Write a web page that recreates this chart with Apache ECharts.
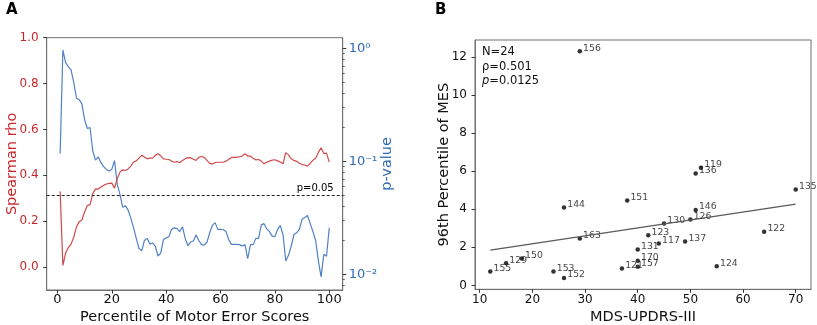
<!DOCTYPE html>
<html>
<head>
<meta charset="utf-8">
<script src="https://cdn.jsdelivr.net/npm/echarts@6/dist/echarts.min.js"></script>
<style>
  html, body { margin: 0; padding: 0; background: #fff; }
  #chart { width: 817px; height: 325px; }
</style>
</head>
<body>
<div id="chart"></div>
<script>
// ---- panel A: rho / p-value per percentile ----
const percentiles = [
  1, 2, 3, 4, 5, 6, 7, 8, 9, 10, 11, 12, 13, 14, 15, 16, 17, 18, 19, 20,
  21, 22, 23, 24, 25, 26, 27, 28, 29, 30, 31, 32, 33, 34, 35, 36, 37, 38, 39, 40,
  41, 42, 43, 44, 45, 46, 47, 48, 49, 50, 51, 52, 53, 54, 55, 56, 57, 58, 59, 60,
  61, 62, 63, 64, 65, 66, 67, 68, 69, 70, 71, 72, 73, 74, 75, 76, 77, 78, 79, 80,
  81, 82, 83, 84, 85, 86, 87, 88, 89, 90, 91, 92, 93, 94, 95, 96, 97, 98, 99, 100
];
const rho = [
  0.33, 0.007, 0.06, 0.085, 0.10, 0.13, 0.175, 0.198, 0.205, 0.24,
  0.268, 0.272, 0.32, 0.341, 0.340, 0.349, 0.356, 0.362, 0.365, 0.366,
  0.344, 0.385, 0.414, 0.424, 0.421, 0.428, 0.44, 0.458, 0.463, 0.475,
  0.487, 0.48, 0.472, 0.475, 0.475, 0.487, 0.494, 0.485, 0.472, 0.47,
  0.469, 0.462, 0.457, 0.46, 0.455, 0.465, 0.472, 0.477, 0.476, 0.47,
  0.465, 0.478, 0.482, 0.478, 0.465, 0.452, 0.449, 0.456, 0.457, 0.457,
  0.457, 0.462, 0.469, 0.478, 0.478, 0.478, 0.481, 0.484, 0.494, 0.484,
  0.484, 0.474, 0.467, 0.469, 0.462, 0.45, 0.457, 0.462, 0.466, 0.468,
  0.463, 0.458, 0.45, 0.499, 0.489, 0.472, 0.465, 0.461, 0.453, 0.447,
  0.445, 0.44, 0.452, 0.466, 0.474, 0.50, 0.52, 0.495, 0.497, 0.458
];
const pValue = [
  0.118, 0.970, 0.750, 0.692, 0.646, 0.501, 0.363, 0.353, 0.324, 0.234,
  0.196, 0.200, 0.124, 0.103, 0.110, 0.0977, 0.0902, 0.0851, 0.0824, 0.0851,
  0.102, 0.0631, 0.0513, 0.0394, 0.0407, 0.0372, 0.0316, 0.0260, 0.0209, 0.0170,
  0.0162, 0.0200, 0.0209, 0.0186, 0.0191, 0.0178, 0.0146, 0.0155, 0.0204, 0.0211,
  0.0216, 0.0251, 0.0259, 0.0255, 0.0240, 0.0265, 0.0209, 0.0180, 0.0194, 0.0198,
  0.0224, 0.0200, 0.0184, 0.0182, 0.0193, 0.0234, 0.0272, 0.0288, 0.0251, 0.0251,
  0.0249, 0.0240, 0.0204, 0.0185, 0.0185, 0.0185, 0.0184, 0.0179, 0.0184, 0.0138,
  0.0184, 0.0184, 0.0209, 0.0209, 0.0275, 0.0282, 0.0254, 0.0240, 0.0219, 0.0216,
  0.0251, 0.0272, 0.0224, 0.0132, 0.0148, 0.0178, 0.0226, 0.0234, 0.0251, 0.0309,
  0.0320, 0.0333, 0.0282, 0.0240, 0.0200, 0.0132, 0.00955, 0.0151, 0.0145, 0.0259
];
const pThreshold = 0.05;
const xTicksA = [0, 20, 40, 60, 80, 100];
const rhoTicks = [0, 0.2, 0.4, 0.6, 0.8, 1.0];
const pMinorTicks = [0.008, 0.009, 0.02, 0.03, 0.04, 0.05, 0.06, 0.07, 0.08, 0.09,
  0.2, 0.3, 0.4, 0.5, 0.6, 0.7, 0.8, 0.9];

// ---- panel B: MDS-UPDRS-III vs 96th percentile of MES ----
const subjects = ['156', '144', '163', '155', '129', '150', '153', '152', '151', '130', '123', '117',
  '131', '170', '157', '121', '137', '126', '119', '136', '146', '135', '122', '124'];
const updrs = [29, 26, 29, 12, 15, 18, 24, 26, 38, 45, 42, 44,
  40, 40, 40, 37, 49, 50, 52, 51, 51, 70, 64, 55];
const mes96 = [12.31, 4.09, 2.47, 0.73, 1.17, 1.42, 0.73, 0.39, 4.46, 3.25, 2.64, 2.2,
  1.89, 1.30, 0.98, 0.89, 2.31, 3.46, 6.19, 5.88, 3.97, 5.04, 2.82, 1.0];
const fitX = [12, 70];
const fitY = [1.86, 4.27];
const xTicksB = [10, 20, 30, 40, 50, 60, 70];
const yTicksB = [0, 2, 4, 6, 8, 10, 12];

const RED = '#c8282c';
const RED_LINE = '#d24a4c';
const BLUE = '#2f6bb3';
const BLUE_LINE = '#4f82c4';
const FONT = 'DejaVu Sans';
const FRAME = '#707070';

const pMin = 0.0073, pMax = 1.246;

const sup = { '0': '⁰', '1': '¹', '2': '²', '-': '⁻' };
function powLabel(v) {
  const e = Math.round(Math.log10(v));
  if (Math.abs(Math.log10(v) - e) > 1e-6) return '';
  return '10' + String(e).split('').map(c => sup[c]).join('');
}

const chart = echarts.init(document.getElementById('chart'), null, { renderer: 'canvas' });

const option = {
  animation: false,
  textStyle: { fontFamily: FONT },
  grid: [
    { left: 46.7, top: 37.7, width: 296, height: 252.3, show: true, borderColor: FRAME, borderWidth: 1,
      containLabel: false, outerBoundsMode: 'none' },
    { left: 475, top: 40, width: 336, height: 249.3, show: true, borderColor: FRAME, borderWidth: 1,
      containLabel: false, outerBoundsMode: 'none' }
  ],
  xAxis: [
    {
      gridIndex: 0, type: 'value', min: -3.95, max: 104.95,
      name: 'Percentile of Motor Error Scores', nameLocation: 'middle', nameGap: 20, nameMoveOverlap: false,
      nameTextStyle: { fontSize: 14.5, color: '#111', fontFamily: FONT },
      axisLine: { onZero: false, lineStyle: { color: FRAME } },
      axisTick: { customValues: xTicksA, length: 3.5, lineStyle: { color: '#333' } },
      axisLabel: { customValues: xTicksA, fontSize: 13, color: '#111', margin: 3 },
      splitLine: { show: false }
    },
    {
      gridIndex: 1, type: 'value', min: 9.1, max: 72.9,
      name: 'MDS-UPDRS-III', nameLocation: 'middle', nameGap: 20, nameMoveOverlap: false,
      nameTextStyle: { fontSize: 14.5, color: '#111', fontFamily: FONT },
      axisLine: { onZero: false, lineStyle: { color: FRAME } },
      axisTick: { customValues: xTicksB, length: 3.5, lineStyle: { color: '#333' } },
      axisLabel: { customValues: xTicksB, fontSize: 12, color: '#111', margin: 5 },
      splitLine: { show: false }
    }
  ],
  yAxis: [
    {
      gridIndex: 0, type: 'value', min: -0.1, max: 1.0, position: 'left',
      name: 'Spearman rho', nameLocation: 'middle', nameGap: 27, nameMoveOverlap: false,
      nameTextStyle: { fontSize: 14.5, color: RED, fontFamily: FONT },
      axisLine: { show: true, onZero: false, lineStyle: { color: FRAME } },
      axisTick: { show: true, customValues: rhoTicks, length: 3.5, lineStyle: { color: '#333' } },
      axisLabel: { customValues: rhoTicks, fontSize: 12, color: RED, margin: 8,
        formatter: v => v.toFixed(1) },
      splitLine: { show: false }
    },
    {
      gridIndex: 0, type: 'log', logBase: 10, min: pMin, max: pMax, position: 'right',
      name: 'p-value', nameLocation: 'middle', nameGap: 37, nameRotate: 90, nameMoveOverlap: false,
      nameTextStyle: { fontSize: 14.5, color: BLUE, fontFamily: FONT },
      axisLine: { show: true, onZero: false, lineStyle: { color: FRAME } },
      axisTick: { show: true, length: 3.5, lineStyle: { color: '#333' } },
      axisLabel: { fontSize: 13, color: BLUE, margin: 6, showMinLabel: false, showMaxLabel: false,
        formatter: powLabel },
      splitLine: { show: false }
    },
    {
      // minor ticks for the log axis (positions in decades)
      gridIndex: 0, type: 'value', position: 'right',
      min: Math.log10(pMin), max: Math.log10(pMax),
      axisLine: { show: false, onZero: false },
      axisTick: { show: true, customValues: pMinorTicks.map(v => Math.log10(v)), length: 2,
        lineStyle: { color: '#555' } },
      axisLabel: { show: false },
      splitLine: { show: false }
    },
    {
      gridIndex: 1, type: 'value', min: -0.206, max: 12.906,
      name: '96th Percentile of MES', nameLocation: 'middle', nameGap: 23, nameMoveOverlap: false,
      nameTextStyle: { fontSize: 14.5, color: '#111', fontFamily: FONT },
      axisLine: { show: true, onZero: false, lineStyle: { color: FRAME } },
      axisTick: { show: true, customValues: yTicksB, length: 3.5, lineStyle: { color: '#333' } },
      axisLabel: { customValues: yTicksB, fontSize: 12, color: '#111', margin: 8 },
      splitLine: { show: false }
    }
  ],
  series: [
    {
      name: 'p-value', type: 'line', xAxisIndex: 0, yAxisIndex: 1,
      data: percentiles.map((x, i) => [x, pValue[i]]),
      showSymbol: false, lineStyle: { color: BLUE_LINE, width: 1.2 },
      markLine: {
        silent: true, symbol: 'none',
        lineStyle: { color: '#222', type: [3, 2], width: 1.1 },
        label: { show: true, position: 'insideEndTop', formatter: 'p=0.' + '05',
          color: '#000', fontSize: 10, fontFamily: FONT, distance: [9, 2] },
        data: [{ yAxis: pThreshold }]
      }
    },
    {
      name: 'rho', type: 'line', xAxisIndex: 0, yAxisIndex: 0,
      data: percentiles.map((x, i) => [x, rho[i]]),
      showSymbol: false, lineStyle: { color: RED_LINE, width: 1.2 }
    },
    {
      name: 'fit', type: 'line', xAxisIndex: 1, yAxisIndex: 3,
      data: fitX.map((x, i) => [x, fitY[i]]),
      showSymbol: false, lineStyle: { color: '#5a5a5a', width: 1.3 }
    },
    {
      name: 'subjects', type: 'scatter', xAxisIndex: 1, yAxisIndex: 3,
      data: updrs.map((x, i) => ({ value: [x, mes96[i]], name: subjects[i] })),
      symbolSize: 4.5, itemStyle: { color: '#000' },
      label: { show: true, position: 'right', distance: 1, offset: [0, -3],
        formatter: p => p.name, fontSize: 9.3, color: '#111', fontFamily: FONT }
    }
  ],
  graphic: [
    { type: 'text', left: 6, top: 3, style: { text: 'A', fontSize: 15, fontWeight: 'bold', fill: '#000', fontFamily: FONT } },
    { type: 'text', left: 435, top: 3, style: { text: 'B', fontSize: 15, fontWeight: 'bold', fill: '#000', fontFamily: FONT } },
    { type: 'text', left: 482, top: 46, style: { text: 'N=24', fontSize: 11.5, fill: '#111', fontFamily: FONT } },
    { type: 'text', left: 482, top: 61, style: { text: 'ρ=0.501', fontSize: 11.5, fill: '#111', fontFamily: FONT } },
    { type: 'text', left: 482, top: 75, style: { text: '{i|p}=0.0125', fontSize: 11.5, fill: '#111', fontFamily: FONT,
      rich: { i: { fontStyle: 'italic', fontSize: 11.5, fontFamily: FONT } } } }
  ]
};

chart.setOption(option);
</script>
</body>
</html>
